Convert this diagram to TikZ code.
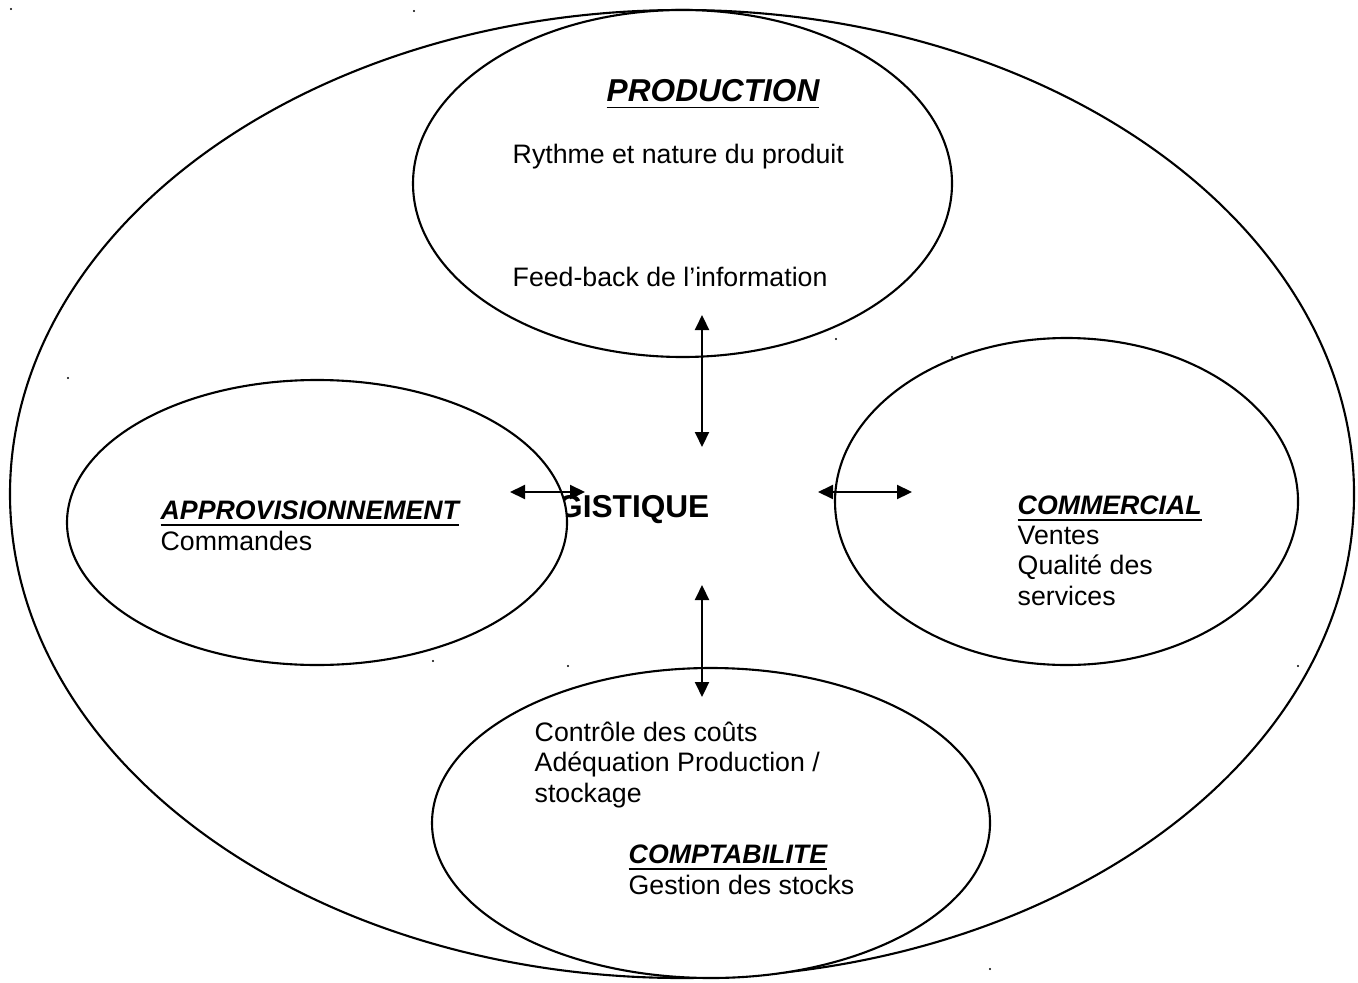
\documentclass[tikz,border=0pt]{standalone}
\usepackage{fontspec}
\setmainfont{Liberation Sans}
\usetikzlibrary{arrows.meta,shapes.geometric,positioning}

\tikzset{
  zone/.style={draw, ellipse, line width=0.6pt, inner sep=0pt, fill=white},
  txt/.style={inner sep=0pt, align=left, anchor=base west, font=\fontsize{7.6}{8.55}\selectfont},
  big/.style={inner sep=0pt, font=\fontsize{9}{10}\selectfont\bfseries},
  link/.style={{Triangle[length=1.5mm,width=1.4mm]}-{Triangle[length=1.5mm,width=1.4mm]}, line width=0.6pt},
  speck/.style={fill=black}
}

\begin{document}
\begin{tikzpicture}
  \useasboundingbox (0,0) rectangle (13.58,-9.82);

  \node[zone, minimum width=13.44cm, minimum height=9.68cm] (firm) at (6.82,-4.94) {};
  \node[zone, minimum width=5.39cm, minimum height=3.47cm] (prod) at (6.825,-1.835) {};
  \node[big, anchor=base east] (logi) at (7.10,-5.17) {LOGISTIQUE};
  \node[zone, minimum width=5.00cm, minimum height=2.85cm] (appro) at (3.17,-5.225) {};
  \node[zone, minimum width=4.63cm, minimum height=3.27cm] (comm) at (10.665,-5.015) {};
  \node[zone, minimum width=5.58cm, minimum height=3.10cm] (compta) at (7.11,-8.23) {};

  % textes (base = derniere ligne)
  \node[big, anchor=base west, font=\fontsize{9}{10}\selectfont\bfseries\itshape] (prodt) at (6.06,-1.02) {\underline{PRODUCTION}};
  \node[txt] (rythme) at (5.12,-1.64) {Rythme et nature du produit};
  \node[txt] (feed) at (5.12,-2.87) {Feed-back de l’information};
  \node[txt] (approt) at (1.60,-5.50) {\textbf{\textit{\underline{APPROVISIONNEMENT}}}\\Commandes};
  \node[txt] (commt) at (10.17,-6.05) {\textbf{\textit{\underline{COMMERCIAL}}}\\Ventes\\Qualité des\\services};
  \node[txt] (couts) at (5.34,-8.02) {Contrôle des coûts\\Adéquation Production /\\stockage};
  \node[txt] (comptat) at (6.28,-8.94) {\textbf{\textit{\underline{COMPTABILITE}}}\\Gestion des stocks};

  % fleches
  \coordinate (up1) at (7.02,-3.15);
  \coordinate (up2) at (7.02,-4.47);
  \coordinate (dn1) at (7.02,-5.85);
  \coordinate (dn2) at (7.02,-6.97);
  \coordinate (lf1) at (5.10,-4.92);
  \coordinate (lf2) at (5.85,-4.92);
  \coordinate (rt1) at (8.18,-4.92);
  \coordinate (rt2) at (9.12,-4.92);
  \draw[link] (up1) -- (up2);
  \draw[link] (dn1) -- (dn2);
  \draw[link] (lf1) -- (lf2);
  \draw[link] (rt1) -- (rt2);

  % points
  \foreach \x/\y in {0.11/-0.09, 4.14/-0.11, 0.68/-3.78, 8.36/-3.39, 9.52/-3.57,
                     4.33/-6.61, 5.68/-6.66, 12.98/-6.66, 9.90/-9.69}
    \fill[speck] (\x,\y) circle (0.012);
\end{tikzpicture}
\end{document}
